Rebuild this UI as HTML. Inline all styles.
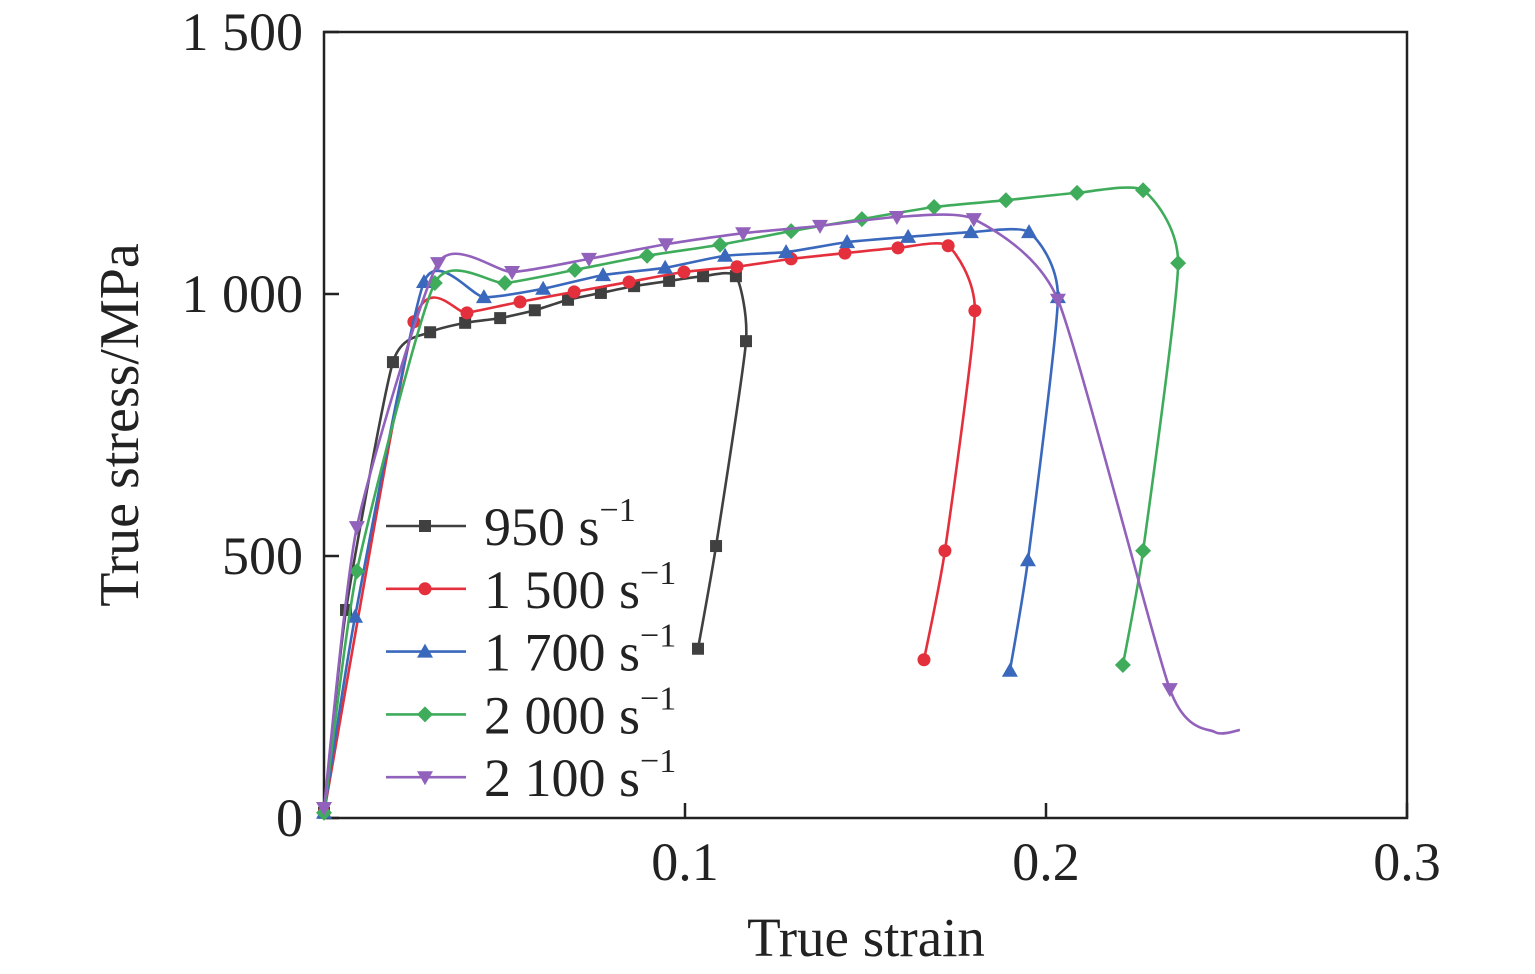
<!DOCTYPE html>
<html><head><meta charset="utf-8"><style>
html,body{margin:0;padding:0;background:#fff;}
svg{display:block;font-family:"Liberation Serif",serif;}
</style></head><body>
<svg id="chart" width="1535" height="974" viewBox="0 0 1535 974">
<rect x="324" y="32" width="1083" height="786" fill="none" stroke="#222" stroke-width="2.5"/>
<g id="axes"></g>
<g id="series"></g>
<g id="legend"></g>
<text x="866" y="956" font-size="55" text-anchor="middle" fill="#222">True strain</text>
<text transform="translate(138,425) rotate(-90)" font-size="56" text-anchor="middle" fill="#222">True stress/MPa</text>
</svg>
<script>
const xTicks=[0.1,0.2,0.3];
const xTickLabels=["0.1","0.2","0.3"];
const yTicks=[0,500,1000,1500];
const yTickLabels=["0","500","1 000","1 500"];
const seriesNames=["950 s","1 500 s","1 700 s","2 000 s","2 100 s"];
const seriesColors=["#404040","#e4303c","#3a68bc","#3fac5c","#9161bb"];
const seriesMarkers=["square","circle","triangle","diamond","itriangle"];
const s950x=[0,0.0061,0.0191,0.0294,0.0391,0.0488,0.0584,0.0676,0.0767,0.0859,0.0956,0.105,0.1141,0.1169,0.1086,0.1036];
const s950y=[10,397,870,927,945,954,969,989,1002,1015,1025,1034,1034,910,519,323];
const s1500x=[0,0.0249,0.0396,0.0543,0.0693,0.0845,0.0997,0.1144,0.1294,0.1443,0.159,0.1729,0.1803,0.172,0.1662];
const s1500y=[10,947,964,985,1004,1023,1042,1052,1067,1078,1088,1092,968,510,302];
const s1700x=[0,0.0086,0.0277,0.0443,0.0607,0.0773,0.0945,0.1111,0.128,0.1449,0.1618,0.1792,0.1953,0.2033,0.195,0.19];
const s1700y=[10,384,1023,994,1010,1036,1050,1073,1080,1099,1109,1118,1118,994,492,281];
const s2000x=[0,0.0091,0.0307,0.0501,0.0695,0.0895,0.1097,0.1294,0.149,0.169,0.1889,0.2086,0.2269,0.2366,0.2269,0.2213];
const s2000y=[10,471,1021,1021,1046,1073,1094,1120,1143,1166,1179,1193,1198,1059,510,292];
const s2100x=[0,0.0091,0.0316,0.0521,0.0734,0.0947,0.1161,0.1374,0.1587,0.18,0.2033,0.2343,0.2468,0.2537];
const s2100y=[19,555,1059,1042,1067,1095,1116,1130,1147,1143,989,246,164,168];
const s2100marked=12;
const allX=[s950x,s1500x,s1700x,s2000x,s2100x];
const allY=[s950y,s1500y,s1700y,s2000y,s2100y];

const NS="http://www.w3.org/2000/svg";
const X=v=>324+v*3610;
const Y=v=>818-v*0.524;
function mk(tag,attrs,parent){const e=document.createElementNS(NS,tag);for(const k in attrs)e.setAttribute(k,attrs[k]);parent.appendChild(e);return e;}
const axes=document.getElementById('axes');
xTicks.forEach((t,i)=>{
  const l=mk('line',{x1:X(t),x2:X(t),y1:818,y2:803,stroke:'#222','stroke-width':2.5},axes);
  
  
  const tx=mk('text',{x:X(t),y:880,'font-size':54,'text-anchor':'middle',fill:'#222'},axes);
  tx.textContent=xTickLabels[i];
  
  
});
yTicks.forEach((t,i)=>{
  const l=mk('line',{x1:324,x2:339,y1:Y(t),y2:Y(t),stroke:'#222','stroke-width':2.5},axes);
  
  
  const tx=mk('text',{x:303,y:Y(t)+18,'font-size':54,'text-anchor':'end',fill:'#222'},axes);
  tx.textContent=yTickLabels[i];
  
  
});
function marker(type,x,y,c,parent){
  let e;const s=6.5;
  if(type==='square')e=mk('rect',{x:x-s+0.5,y:y-s+0.5,width:2*s-1,height:2*s-1,fill:c},parent);
  else if(type==='circle')e=mk('circle',{cx:x,cy:y,r:s,fill:c},parent);
  else if(type==='triangle')e=mk('polygon',{points:`${x},${y-8} ${x+8},${y+6} ${x-8},${y+6}`,fill:c},parent);
  else if(type==='diamond')e=mk('polygon',{points:`${x},${y-8} ${x+8},${y} ${x},${y+8} ${x-8},${y}`,fill:c},parent);
  else e=mk('polygon',{points:`${x},${y+8} ${x+8},${y-6} ${x-8},${y-6}`,fill:c},parent);
  
  
}
function spline(p){
  let d=`M${p[0][0]},${p[0][1]}`;
  for(let i=0;i<p.length-1;i++){
    const p0=p[Math.max(i-1,0)],p1=p[i],p2=p[i+1],p3=p[Math.min(i+2,p.length-1)];
    const t=0.3/3;
    d+=` C${p1[0]+(p2[0]-p0[0])*t},${p1[1]+(p2[1]-p0[1])*t} ${p2[0]-(p3[0]-p1[0])*t},${p2[1]-(p3[1]-p1[1])*t} ${p2[0]},${p2[1]}`;
  }
  return d;
}
const sg=document.getElementById('series');
allX.forEach((xs,si)=>{
  const g=mk('g',{},sg);
  
  
  const pts=xs.map((v,i)=>[X(v),Y(allY[si][i])]);
  const p=mk('path',{d:spline(pts),fill:'none',stroke:seriesColors[si],'stroke-width':2.6},g);
  
  
  const n=si===4?s2100marked:pts.length;
  for(let i=0;i<n;i++)marker(seriesMarkers[si],pts[i][0],pts[i][1],seriesColors[si],g);
});
const lg=document.getElementById('legend');
seriesNames.forEach((n,i)=>{
  const y=526+i*62.8;
  const g=mk('g',{},lg);
  
  
  mk('line',{x1:386,x2:466,y1:y,y2:y,stroke:seriesColors[i],'stroke-width':2.6},g);
  marker(seriesMarkers[i],425,y,seriesColors[i],g);
  const t=mk('text',{x:484,y:y+19,'font-size':54,fill:'#222'},g);
  t.textContent=n;
  const sup=mk('tspan',{dy:-24,'font-size':34},t);
  sup.textContent='\u22121';
});
</script>
</body></html>
